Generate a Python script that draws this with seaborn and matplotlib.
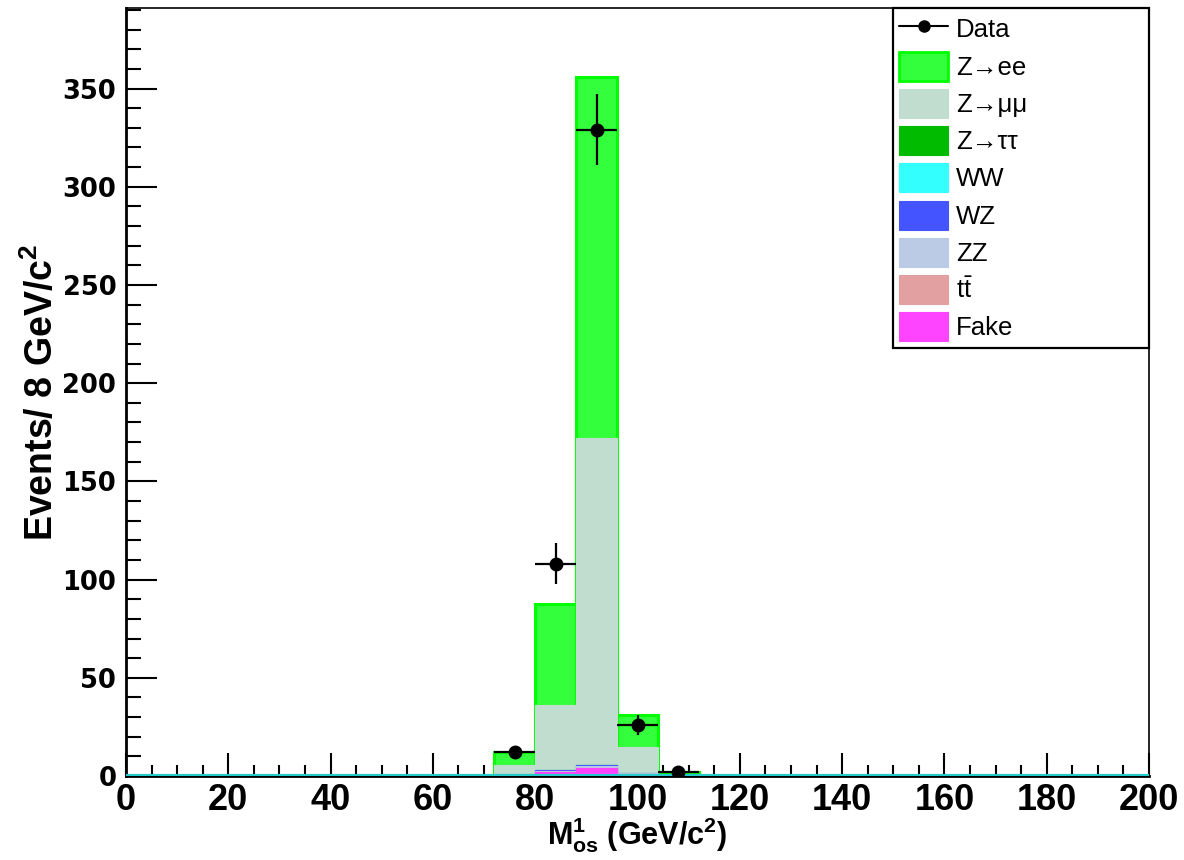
import numpy as np
import pandas as pd
import matplotlib
matplotlib.use("Agg")
import matplotlib.pyplot as plt
import seaborn as sns
from matplotlib.lines import Line2D
from matplotlib.patches import Patch

# ---------------- data ----------------
bin_width = 8
x_range = (0, 200)
bin_centers = [76, 84, 92, 100, 108]      # bins with content

processes = ["Z→ee", "Z→μμ", "Z→ττ", "WW", "WZ", "ZZ", r"t$\bar{\rm t}$", "Fake"]
colors = ["#33ff3c", "#c0ddd0", "#00bb00", "#33ffff", "#4455ff", "#bbcbe6", "#e3a0a0", "#ff44ff"]

zee     = [6.5, 51.6, 184.0, 16.2, 1.2]
zmumu   = [4.7, 32.7, 166.3, 13.3, 0.85]
ztautau = [0.3, 0.2, 0.1, 0.05, 0.0]
ww      = [0.05, 0.1, 0.1, 0.05, 0.0]
wz      = [0.05, 0.2, 0.3, 0.1, 0.0]
zz      = [0.2, 0.8, 1.2, 0.3, 0.05]
ttbar   = [0.0, 0.0, 0.0, 0.0, 0.0]
fake    = [0.3, 2.0, 4.0, 1.0, 0.1]

data_x = [76, 84, 92, 100, 108]
data_y = [12, 108, 329, 26, 2]

x_ticks = [0, 20, 40, 60, 80, 100, 120, 140, 160, 180, 200]
y_ticks = [0, 50, 100, 150, 200, 250, 300, 350]

# ---------------- style ----------------
sns.set_theme(style="ticks")
plt.rcParams["font.family"] = ["Liberation Sans", "DejaVu Sans"]
plt.rcParams["mathtext.fontset"] = "custom"
plt.rcParams["mathtext.rm"] = "Liberation Sans"
plt.rcParams["mathtext.it"] = "Liberation Sans:italic"
plt.rcParams["mathtext.bf"] = "Liberation Sans:bold"
for k in ["text.color", "axes.labelcolor", "xtick.color", "ytick.color", "axes.edgecolor"]:
    plt.rcParams[k] = "black"

fig = plt.figure(figsize=(11.84, 8.6), dpi=100)
ax = fig.add_axes([126 / 1184, 1 - 776 / 860, (1149 - 126) / 1184, (776 - 8) / 860])

layers = [zee, zmumu, ztautau, ww, wz, zz, ttbar, fake]
stack = np.array(layers[::-1])            # bottom -> top
cum = np.cumsum(stack, axis=0)[::-1]      # cumulative, top layer first

for i, (name, col) in enumerate(zip(processes, colors)):
    df = pd.DataFrame({"m": bin_centers, "w": cum[i]})
    if i == 0:
        ec, lw = "#00ff00", 2.2
    else:
        ec, lw = col, 0.8
    sns.histplot(data=df, x="m", weights="w", binwidth=bin_width, binrange=x_range,
                 element="bars", color=col, edgecolor=ec, linewidth=lw, alpha=1.0,
                 ax=ax, legend=False)

# line of empty background histograms along zero
ax.axhline(0, color="#22cccc", lw=3, zorder=3)

# data points
ax.errorbar(data_x, data_y, xerr=bin_width / 2, yerr=np.sqrt(data_y), fmt="o",
            color="black", markersize=9, elinewidth=1.6, capsize=0, zorder=5)

ax.set_xlim(*x_range)
ax.set_ylim(0, 391)
ax.set_xticks(x_ticks)
ax.set_yticks(y_ticks)
ax.set_xticks(np.arange(0, 201, 5), minor=True)
ax.set_yticks(np.arange(0, 391, 10), minor=True)

ax.tick_params(axis="x", which="major", direction="in", length=16.5, width=1.5, pad=5)
ax.tick_params(axis="x", which="minor", direction="in", length=8, width=1.5)
ax.tick_params(axis="y", which="major", direction="in", length=22, width=1.5, pad=7)
ax.tick_params(axis="y", which="minor", direction="in", length=11, width=1.5)

for lab in ax.get_xticklabels():
    lab.set_family(["Liberation Sans Narrow", "Liberation Sans", "DejaVu Sans"])
    lab.set_fontweight("bold")
    lab.set_fontsize(26)
for lab in ax.get_yticklabels():
    lab.set_family(["DejaVu Sans"])
    lab.set_fontweight("bold")
    lab.set_fontsize(18.5)

for s in ["left", "bottom"]:
    ax.spines[s].set_linewidth(2)
for s in ["top", "right"]:
    ax.spines[s].set_linewidth(1.2)

ax.set_xlabel(r"$\mathbf{M^{1}_{os}}$ (GeV/c$^{\mathbf{2}}$)", fontsize=22,
              fontweight="bold", family=["Liberation Sans Narrow", "Liberation Sans", "DejaVu Sans"])
ax.xaxis.set_label_coords(0.5, -0.051)
ax.set_ylabel(r"Events/ 8 GeV/c$^{\mathbf{2}}$", fontsize=27, fontweight="bold", labelpad=1)

# legend
handles = [Line2D([0], [0], color="black", marker="o", markersize=8, lw=1.5)]
for i, (name, col) in enumerate(zip(processes, colors)):
    if i == 0:
        handles.append(Patch(facecolor=col, edgecolor="#00ff00", linewidth=2))
    else:
        handles.append(Patch(facecolor=col, edgecolor=col, linewidth=0.8))
labels = ["Data"] + processes
leg = ax.legend(handles, labels, loc="upper left",
                bbox_to_anchor=(0.7498, 0.5625, 0.2502, 0.4375), mode="expand",
                borderaxespad=0, fontsize=18.5, frameon=True, fancybox=False,
                handlelength=1.9, handleheight=1.36, handletextpad=0.3,
                labelspacing=0.32, borderpad=0.25)
leg.get_frame().set_edgecolor("black")
leg.get_frame().set_linewidth(1.6)
leg.get_frame().set_alpha(1)

fig.savefig("out.png", dpi=100)
